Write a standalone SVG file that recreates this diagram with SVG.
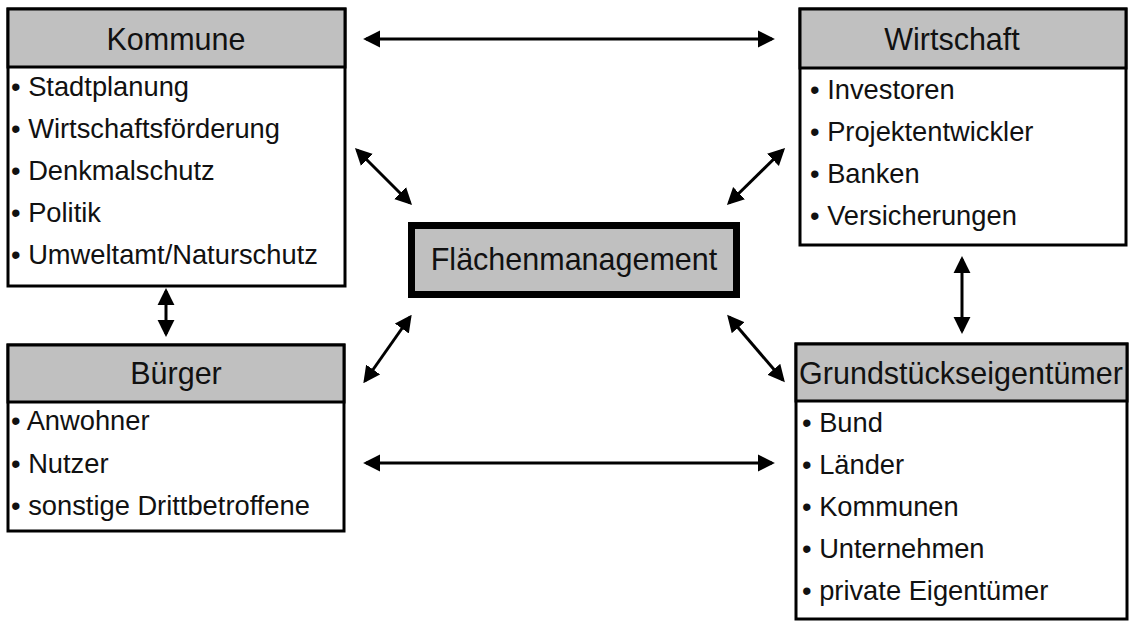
<svg xmlns="http://www.w3.org/2000/svg" width="1133" height="622" viewBox="0 0 1133 622">
<defs>
<style>
.box{fill:#fff;stroke:#000;stroke-width:3}
.hdr{fill:#c0c0c0;stroke:#000;stroke-width:3}
.ht{font-family:"Liberation Sans",Arial,sans-serif;font-size:30.5px;fill:#111;text-anchor:middle}
.it{font-family:"Liberation Sans",Arial,sans-serif;font-size:27.3px;fill:#111}
.con{stroke:#000;stroke-width:3;fill:none;marker-start:url(#ah);marker-end:url(#ah)}
</style>
<marker id="ah" viewBox="0 0 10 10" refX="8.3" refY="5" markerWidth="17" markerHeight="18" markerUnits="userSpaceOnUse" orient="auto-start-reverse">
<path d="M0,0 L10,5 L0,10 Z" fill="#000"/>
</marker>
</defs>
<rect width="1133" height="622" fill="#fff"/>
<g id="connectors">
<line class="con" x1="366" y1="39" x2="772" y2="39"/>
<line class="con" x1="366" y1="463" x2="772" y2="463"/>
<line class="con" x1="166" y1="291" x2="166" y2="334"/>
<line class="con" x1="962" y1="259" x2="962" y2="331"/>
<line class="con" x1="357" y1="150" x2="410" y2="203"/>
<line class="con" x1="783" y1="150" x2="729" y2="203"/>
<line class="con" x1="410" y1="317" x2="365" y2="381"/>
<line class="con" x1="729" y1="317" x2="783" y2="380"/>
</g>
<g id="kommune">
<rect class="box" x="8" y="9" width="337" height="277"/>
<rect class="hdr" x="8" y="9" width="337" height="58"/>
<text class="ht" x="176" y="50">Kommune</text>
<text class="it" x="11" y="96">• Stadtplanung</text>
<text class="it" x="11" y="138">• Wirtschaftsförderung</text>
<text class="it" x="11" y="180">• Denkmalschutz</text>
<text class="it" x="11" y="222">• Politik</text>
<text class="it" x="11" y="264">• Umweltamt/Naturschutz</text>
</g>
<g id="wirtschaft">
<rect class="box" x="800" y="9" width="326" height="236"/>
<rect class="hdr" x="800" y="9" width="326" height="59"/>
<text class="ht" x="952" y="50">Wirtschaft</text>
<text class="it" x="810" y="99">• Investoren</text>
<text class="it" x="810" y="141">• Projektentwickler</text>
<text class="it" x="810" y="183">• Banken</text>
<text class="it" x="810" y="225">• Versicherungen</text>
</g>
<g id="flaechenmanagement">
<rect x="411.5" y="225.5" width="325" height="69" fill="#c0c0c0" stroke="#000" stroke-width="7"/>
<text class="ht" x="574" y="270">Flächenmanagement</text>
</g>
<g id="buerger">
<rect class="box" x="8" y="345" width="336" height="186"/>
<rect class="hdr" x="8" y="345" width="336" height="57"/>
<text class="ht" x="176" y="384">Bürger</text>
<text class="it" x="11" y="430">• Anwohner</text>
<text class="it" x="11" y="473">• Nutzer</text>
<text class="it" x="11" y="515">• sonstige Drittbetroffene</text>
</g>
<g id="grundstueckseigentuemer">
<rect class="box" x="796" y="344" width="331" height="275"/>
<rect class="hdr" x="796" y="344" width="331" height="57"/>
<text class="ht" x="961" y="384">Grundstückseigentümer</text>
<text class="it" x="802" y="432">• Bund</text>
<text class="it" x="802" y="474">• Länder</text>
<text class="it" x="802" y="516">• Kommunen</text>
<text class="it" x="802" y="558">• Unternehmen</text>
<text class="it" x="802" y="600">• private Eigentümer</text>
</g>
</svg>
